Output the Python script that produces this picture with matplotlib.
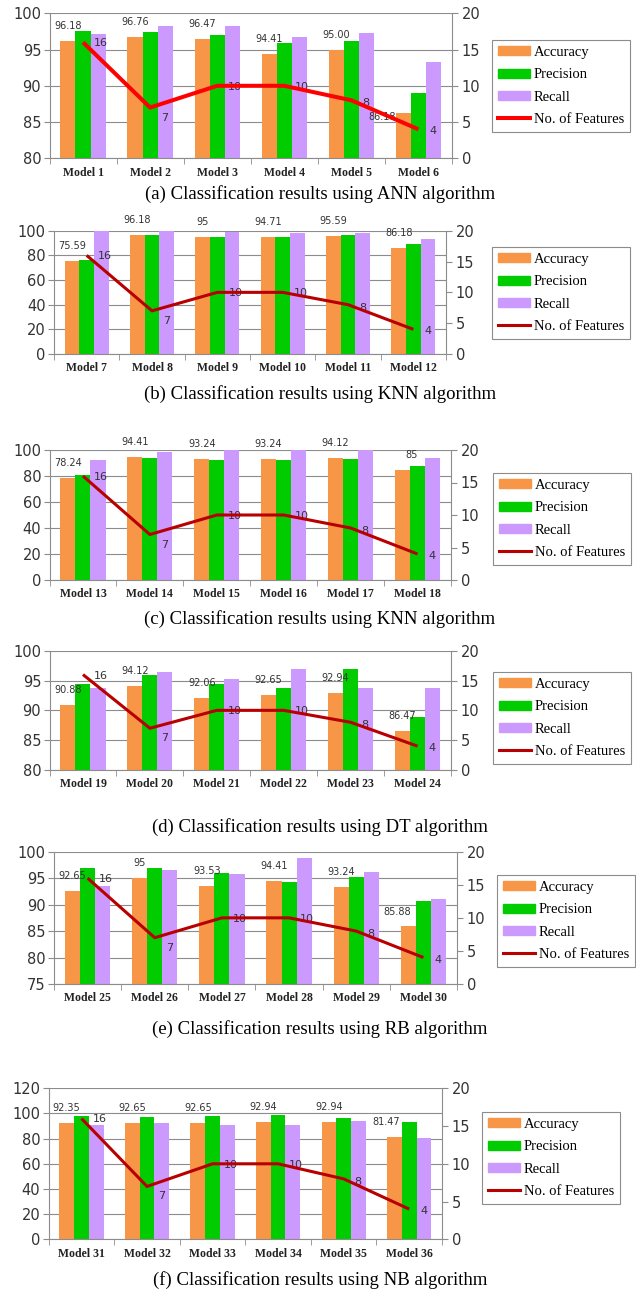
import numpy as np
import matplotlib
matplotlib.use("Agg")
import matplotlib.pyplot as plt
from matplotlib.patches import Patch
from matplotlib.lines import Line2D

# ----------------------------------------------------------------------
# DATA
# ----------------------------------------------------------------------
models_a = ["Model 1", "Model 2", "Model 3", "Model 4", "Model 5", "Model 6"]
models_b = ["Model 7", "Model 8", "Model 9", "Model 10", "Model 11", "Model 12"]
models_c = ["Model 13", "Model 14", "Model 15", "Model 16", "Model 17", "Model 18"]
models_d = ["Model 19", "Model 20", "Model 21", "Model 22", "Model 23", "Model 24"]
models_e = ["Model 25", "Model 26", "Model 27", "Model 28", "Model 29", "Model 30"]
models_f = ["Model 31", "Model 32", "Model 33", "Model 34", "Model 35", "Model 36"]

acc_a  = [96.18, 96.76, 96.47, 94.41, 95.00, 86.18]
prec_a = [97.6, 97.4, 97.0, 95.9, 96.2, 89.0]
rec_a  = [97.2, 98.3, 98.3, 96.8, 97.3, 93.3]

acc_b  = [75.59, 96.18, 95, 94.71, 95.59, 86.18]
prec_b = [75.9, 96.2, 94.7, 94.7, 96.2, 89.5]
rec_b  = [100, 99.5, 99.2, 98.5, 97.9, 93.4]

acc_c  = [78.24, 94.41, 93.24, 93.24, 94.12, 85]
prec_c = [80.8, 94.1, 92.4, 92.4, 93.0, 87.4]
rec_c  = [92.6, 98.3, 100, 100, 100, 93.7]

acc_d  = [90.88, 94.12, 92.06, 92.65, 92.94, 86.47]
prec_d = [94.5, 96.0, 94.5, 93.8, 96.9, 88.9]
rec_d  = [93.7, 96.5, 95.3, 96.9, 93.7, 93.7]

acc_e  = [92.65, 95, 93.53, 94.41, 93.24, 85.88]
prec_e = [96.9, 96.9, 96.0, 94.3, 95.2, 90.6]
rec_e  = [93.5, 96.5, 95.7, 98.8, 96.2, 91.1]

acc_f  = [92.35, 92.65, 92.65, 92.94, 92.94, 81.47]
prec_f = [98.0, 97.0, 98.0, 98.8, 96.5, 93.5]
rec_f  = [91.2, 92.4, 91.2, 91.2, 93.8, 80.6]

n_features = [16, 7, 10, 10, 8, 4]

captions = [
    "(a) Classification results using ANN algorithm",
    "(b) Classification results using KNN algorithm",
    "(c) Classification results using KNN algorithm",
    "(d) Classification results using DT algorithm",
    "(e) Classification results using RB algorithm",
    "(f) Classification results using NB algorithm",
]

# ----------------------------------------------------------------------
# LAYOUT (pixels of the 636x1292 figure)
# ----------------------------------------------------------------------
W, H = 636, 1292
ORANGE, GREEN, PURPLE = "#F79646", "#00CC00", "#CC99FF"
GRAY = "#8C8C8C"
TXT = "#333333"

panels = [
    dict(models=models_a, acc=acc_a, prec=prec_a, rec=rec_a, fmt="{:.2f}",
         ylim=(80, 100), ystep=5, box=(49.5, 13.3, 452, 158.3), leg=(492, 40),
         cap_y=194, line="#FF0000", lw=2.9),
    dict(models=models_b, acc=acc_b, prec=prec_b, rec=rec_b, fmt="{:g}",
         ylim=(0, 100), ystep=20, box=(54, 230.7, 446, 354), leg=(492, 247),
         cap_y=394, line="#B80000", lw=2.2),
    dict(models=models_c, acc=acc_c, prec=prec_c, rec=rec_c, fmt="{:g}",
         ylim=(0, 100), ystep=20, box=(49.5, 450, 451, 580), leg=(493, 473),
         cap_y=619, line="#B80000", lw=2.2),
    dict(models=models_d, acc=acc_d, prec=prec_d, rec=rec_d, fmt="{:g}",
         ylim=(80, 100), ystep=5, box=(49.5, 650.7, 451, 770), leg=(493, 672),
         cap_y=827, line="#B80000", lw=2.2),
    dict(models=models_e, acc=acc_e, prec=prec_e, rec=rec_e, fmt="{:g}",
         ylim=(75, 100), ystep=5, box=(54, 851.7, 457, 984), leg=(497, 875),
         cap_y=1029, line="#B80000", lw=2.2),
    dict(models=models_f, acc=acc_f, prec=prec_f, rec=rec_f, fmt="{:g}",
         ylim=(0, 120), ystep=20, box=(48.7, 1088.3, 442, 1239.3), leg=(482, 1112),
         cap_y=1280, line="#B80000", lw=2.2),
]

# hand-placed accuracy labels in the original (panel, bar) -> (dx, dy) px
label_shift = {(0, 5): (-21, -4), (2, 5): (9, 15), (4, 5): (-11, 14), (5, 5): (-8, 15)}
feat_dy = [-1, -10, -1, -1, -3, -2]

plt.rcParams["font.family"] = "DejaVu Sans"
fig = plt.figure(figsize=(W / 100, H / 100), dpi=100)

bw = 0.225
for k, p in enumerate(panels):
    l, t, r, b = p["box"]
    ax = fig.add_axes([l / W, 1 - b / H, (r - l) / W, (b - t) / H])
    x = np.arange(len(p["models"]))

    ax.bar(x - bw, p["acc"], bw, color=ORANGE, zorder=2)
    ax.bar(x, p["prec"], bw, color=GREEN, zorder=2)
    ax.bar(x + bw, p["rec"], bw, color=PURPLE, zorder=2)

    y0, y1 = p["ylim"]
    ax.set_ylim(y0, y1)
    ax.set_xlim(-0.5, len(x) - 0.5)
    ax.set_yticks(np.arange(y0, y1 + 0.1, p["ystep"]))
    ax.yaxis.grid(True, color=GRAY, lw=0.8)
    ax.set_axisbelow(True)

    ax.set_xticks(x)
    ax.set_xticklabels(p["models"], family="Liberation Serif", fontweight="bold",
                       fontsize=8.5, color="#222222")
    ax.set_xticks(np.arange(-0.5, len(x), 1), minor=True)
    ax.tick_params(axis="x", which="major", length=0, pad=6)
    ax.tick_params(axis="x", which="minor", length=4, color=GRAY, direction="out")
    ax.tick_params(axis="y", length=4, color=GRAY, labelsize=10.5,
                   labelcolor=TXT, pad=2)
    for s in ["top", "right"]:
        ax.spines[s].set_visible(False)
    for s in ["left", "bottom"]:
        ax.spines[s].set_color(GRAY)

    for i, v in enumerate(p["acc"]):
        dx, dy = label_shift.get((k, i), (0, 15))
        ax.annotate(p["fmt"].format(v), xy=(x[i] - bw, v), xytext=(dx, dy),
                    textcoords="offset pixels", ha="center", va="center",
                    fontsize=7, color=TXT, annotation_clip=False, zorder=5)

    ax2 = ax.twinx()
    ax2.plot(x, n_features, color=p["line"], lw=p["lw"], solid_capstyle="butt",
             zorder=4)
    ax2.set_ylim(0, 20)
    ax2.set_yticks(np.arange(0, 21, 5))
    ax2.tick_params(axis="y", length=4, color=GRAY, labelsize=10.5,
                    labelcolor=TXT, pad=3)
    for s in ["top", "left", "bottom"]:
        ax2.spines[s].set_visible(False)
    ax2.spines["right"].set_color(GRAY)
    for i, v in enumerate(n_features):
        ax2.annotate(str(v), xy=(x[i], v), xytext=(11, feat_dy[i]),
                     textcoords="offset pixels", ha="left", va="center",
                     fontsize=8, color=TXT, annotation_clip=False)

    handles = [Patch(color=ORANGE), Patch(color=GREEN), Patch(color=PURPLE),
               Line2D([], [], color=p["line"], lw=p["lw"])]
    names = ["Accuracy", "Precision", "Recall", "No. of Features"]
    lx, ly = p["leg"]
    leg = fig.legend(handles, names, loc="upper left",
                     bbox_to_anchor=(lx / W, 1 - ly / H),
                     bbox_transform=fig.transFigure,
                     prop={"family": "Liberation Serif", "size": 10.5},
                     fancybox=False, framealpha=1, edgecolor=GRAY,
                     borderpad=0.4, labelspacing=0.65, handlelength=2.2,
                     handleheight=0.55, handletextpad=0.25, borderaxespad=0)
    leg.get_frame().set_linewidth(0.8)

    fig.text(320 / W, 1 - p["cap_y"] / H, captions[k], ha="center", va="center",
             family="Liberation Serif", fontsize=13.5, color="black")

fig.savefig("out.png", dpi=100)
